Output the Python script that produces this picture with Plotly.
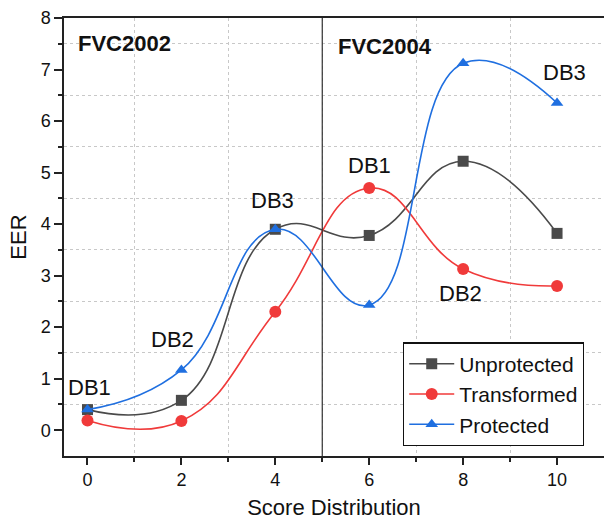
import plotly.graph_objects as go

x_vals = [0, 2, 4, 6, 8, 10]
unprotected = [0.40, 0.58, 3.90, 3.78, 5.22, 3.82]
transformed = [0.19, 0.18, 2.30, 4.70, 3.13, 2.80]
protected = [0.40, 1.17, 3.90, 2.43, 7.12, 6.35]

series_names = ["Unprotected", "Transformed", "Protected"]
colors = ["#4a4a4a", "#f03a3a", "#1f6fe0"]
symbols = ["square", "circle", "triangle-up"]

fig = go.Figure()
for name, ys, c, s in zip(series_names, [unprotected, transformed, protected], colors, symbols):
    fig.add_trace(go.Scatter(
        x=x_vals, y=ys, name=name, mode="lines+markers",
        line=dict(color=c, width=1.6, shape="spline", smoothing=1.3),
        marker=dict(color=c, symbol=s, size=11 if s != "circle" else 12),
    ))

db_labels = [("DB1", 0.05, 0.83), ("DB2", 1.8, 1.77), ("DB3", 3.95, 4.46),
             ("DB1", 6.0, 5.13), ("DB2", 7.95, 2.66), ("DB3", 10.15, 6.95)]
for t, xx, yy in db_labels:
    fig.add_annotation(x=xx, y=yy, text=t, showarrow=False,
                       font=dict(family="Arial", size=22, color="#111"))

fig.add_annotation(x=-0.25, y=7.5, text="<b>FVC2002</b>", showarrow=False, xanchor="left",
                   font=dict(family="Arial", size=22, color="#111"))
fig.add_annotation(x=5.3, y=7.45, text="<b>FVC2004</b>", showarrow=False, xanchor="left",
                   font=dict(family="Arial", size=22, color="#111"))

fig.add_shape(type="line", x0=5, x1=5, y0=-0.5, y1=8, xref="x", yref="y",
              line=dict(color="#333", width=1.2))

fig.update_layout(
    width=604, height=520,
    margin=dict(l=64, r=0, t=18, b=64),
    paper_bgcolor="white", plot_bgcolor="white",
    font=dict(family="Arial", size=18, color="#111"),
    showlegend=True,
    legend=dict(x=0.963, y=0.022, xanchor="right", yanchor="bottom",
                bordercolor="#111", borderwidth=1.2, bgcolor="white",
                font=dict(family="Arial", size=21), tracegroupgap=0, itemwidth=45),
    xaxis=dict(range=[-0.5, 11], tickvals=[0, 2, 4, 6, 8, 10], ticks="outside", ticklen=7,
               tickcolor="#222", tickwidth=1.5, showgrid=False,
               zeroline=False, showline=True, linecolor="#222", linewidth=1.5, mirror=True,
               tickfont=dict(size=18),
               title=dict(text="Score Distribution", font=dict(size=22), standoff=14),
               minor=dict(tickvals=[1, 3, 5, 7, 9], ticks="outside", ticklen=4, tickcolor="#222",
                          showgrid=True, gridcolor="#c8c8c8", griddash="dot", gridwidth=1)),
    yaxis=dict(range=[-0.5, 8], tickvals=list(range(0, 9)), ticks="outside", ticklen=8,
               tickcolor="#222", tickwidth=1.5, showgrid=False, zeroline=False,
               showline=True, linecolor="#222", linewidth=1.5,
               tickfont=dict(size=18),
               title=dict(text="EER", font=dict(size=22), standoff=8),
               minor=dict(tickvals=[0.5, 1.5, 2.5, 3.5, 4.5, 5.5, 6.5, 7.5],
                          ticks="outside", ticklen=4, tickcolor="#222",
                          showgrid=True, gridcolor="#c8c8c8", griddash="dot", gridwidth=1)),
)

fig.write_html("out.html")
